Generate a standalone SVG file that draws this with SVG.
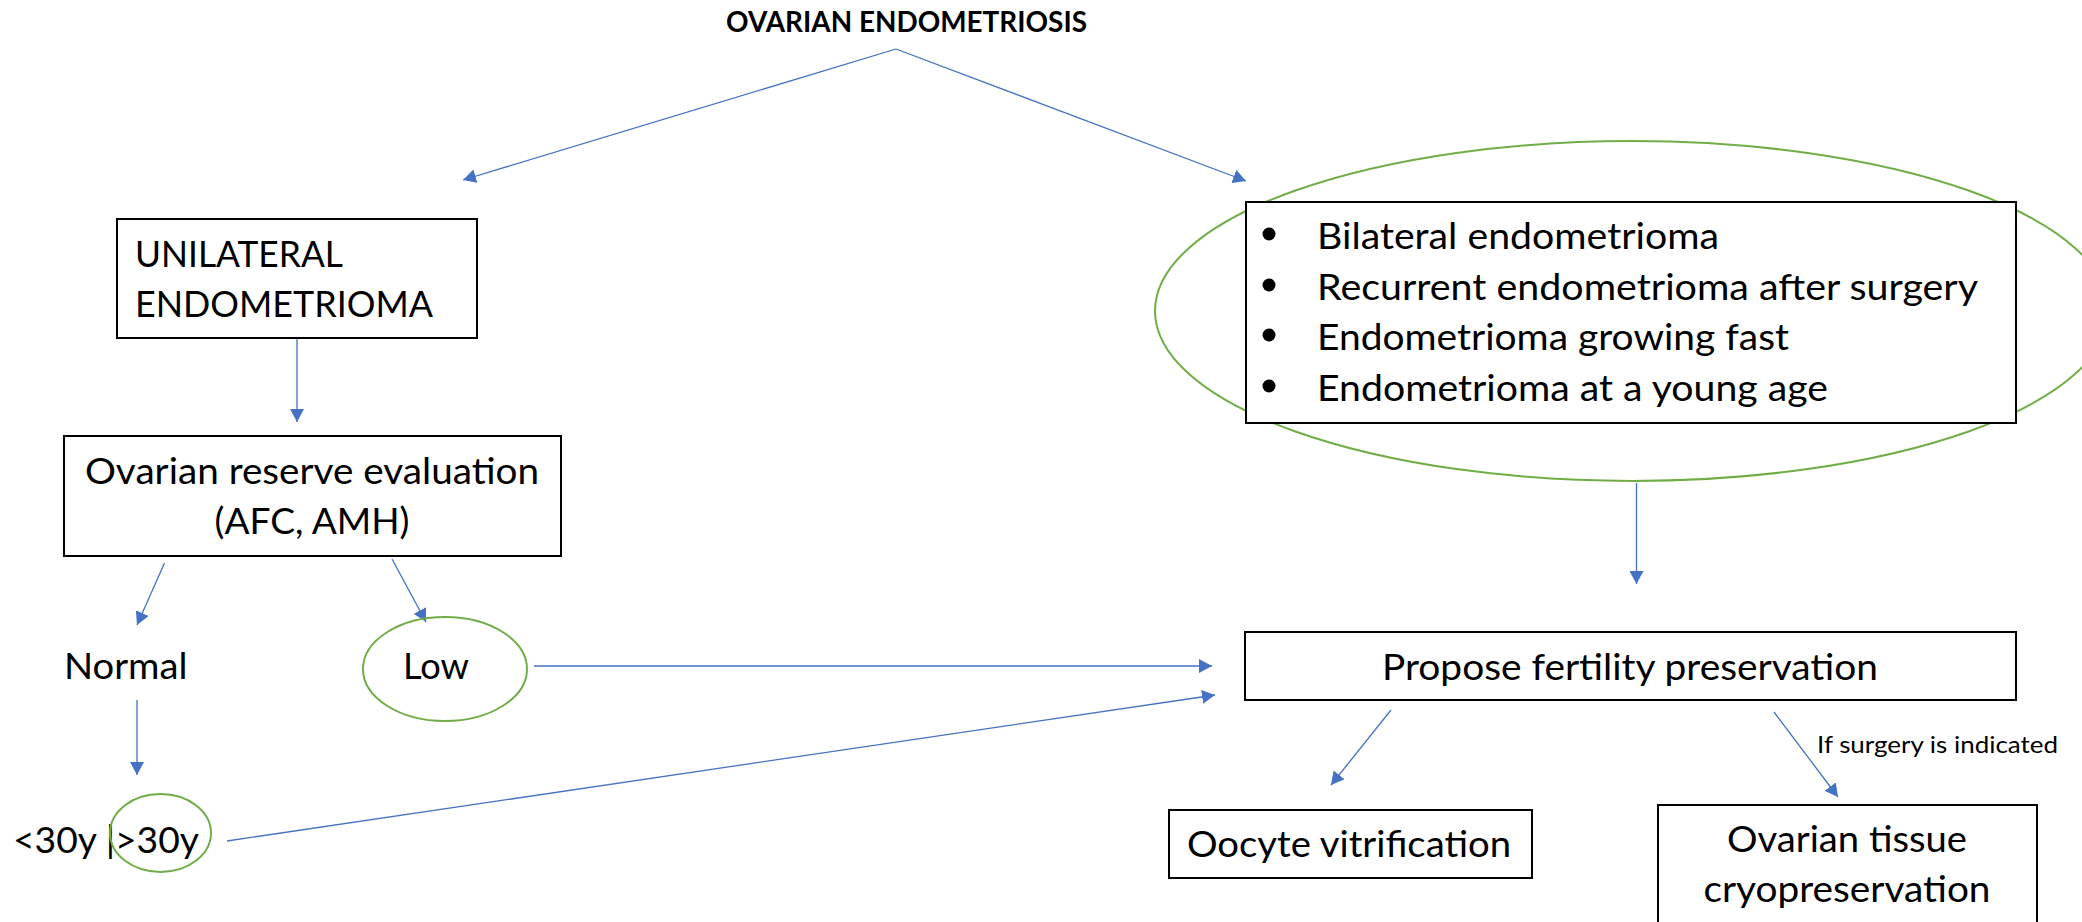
<svg xmlns="http://www.w3.org/2000/svg" width="2082" height="922" viewBox="0 0 2082 922">
  <defs>
    <marker id="arrow" viewBox="0 0 10 10" refX="10" refY="5" markerWidth="13" markerHeight="14" markerUnits="userSpaceOnUse" orient="auto" preserveAspectRatio="none">
      <path d="M0,0 L10,5 L0,10 z" fill="#4472C4"/>
    </marker>
  </defs>
  <style>
    .box { fill: #ffffff; stroke: #000000; stroke-width: 2; }
    .ring { fill: none; stroke: #70AD47; stroke-width: 2; }
    .t { font-family: Lato, "Liberation Sans", sans-serif; font-size: 37px; fill: #000000; }
    .title { font-family: Lato, "Liberation Sans", sans-serif; font-size: 28px; font-weight: bold; fill: #000000; }
    .small { font-family: Lato, "Liberation Sans", sans-serif; font-size: 24px; fill: #000000; }
    .conn line { stroke: #4472C4; stroke-width: 1.3; fill: none; marker-end: url(#arrow); }
    .bullet { fill: #000000; }
  </style>
  <rect width="2082" height="922" fill="#ffffff"/>

  <g id="connectors" class="conn">
    <line x1="896" y1="49" x2="463" y2="180"/>
    <line x1="896" y1="49" x2="1246" y2="181"/>
    <line x1="297" y1="338" x2="297" y2="422"/>
    <line x1="164.5" y1="563" x2="137" y2="625"/>
    <line x1="392" y1="559" x2="426" y2="622"/>
    <line x1="137" y1="700" x2="137" y2="775"/>
    <line x1="534" y1="666" x2="1212" y2="666"/>
    <line x1="227" y1="841" x2="1215" y2="695"/>
    <line x1="1636.5" y1="483" x2="1636.5" y2="584"/>
    <line x1="1391" y1="710" x2="1331" y2="785"/>
    <line x1="1774" y1="712" x2="1838" y2="797"/>
  </g>

  <g id="title">
    <text class="title" x="906.5" y="32" text-anchor="middle" textLength="361" lengthAdjust="spacingAndGlyphs">OVARIAN ENDOMETRIOSIS</text>
  </g>

  <g id="unilateral">
    <rect class="box" x="117" y="219" width="360" height="119"/>
    <text class="t" x="135" y="267" textLength="208" lengthAdjust="spacingAndGlyphs">UNILATERAL</text>
    <text class="t" x="135" y="317" textLength="298" lengthAdjust="spacingAndGlyphs">ENDOMETRIOMA</text>
  </g>

  <g id="ovarian-reserve">
    <rect class="box" x="64" y="436" width="497" height="120"/>
    <text class="t" x="312" y="484" text-anchor="middle" textLength="454" lengthAdjust="spacingAndGlyphs">Ovarian reserve evaluation</text>
    <text class="t" x="312" y="534" text-anchor="middle" textLength="195" lengthAdjust="spacingAndGlyphs">(AFC, AMH)</text>
  </g>

  <g id="normal">
    <text class="t" x="64" y="679" textLength="123.5" lengthAdjust="spacingAndGlyphs">Normal</text>
  </g>

  <g id="low">
    <ellipse class="ring" cx="445" cy="669" rx="82" ry="52"/>
    <text class="t" x="403" y="679" textLength="66" lengthAdjust="spacingAndGlyphs">Low</text>
  </g>

  <g id="age">
    <text class="t" x="13" y="853" textLength="186" lengthAdjust="spacingAndGlyphs">&lt;30y |&gt;30y</text>
    <ellipse class="ring" cx="160.5" cy="833" rx="50.5" ry="39"/>
  </g>

  <g id="criteria">
    <ellipse class="ring" cx="1632" cy="311" rx="477" ry="170"/>
    <rect class="box" x="1246" y="202" width="770" height="221"/>
    <circle class="bullet" cx="1269" cy="234" r="6.5"/>
    <circle class="bullet" cx="1269" cy="285" r="6.5"/>
    <circle class="bullet" cx="1269" cy="335" r="6.5"/>
    <circle class="bullet" cx="1269" cy="386" r="6.5"/>
    <text class="t" x="1317" y="249" textLength="402" lengthAdjust="spacingAndGlyphs">Bilateral endometrioma</text>
    <text class="t" x="1317" y="300" textLength="661" lengthAdjust="spacingAndGlyphs">Recurrent endometrioma after surgery</text>
    <text class="t" x="1317" y="350" textLength="472" lengthAdjust="spacingAndGlyphs">Endometrioma growing fast</text>
    <text class="t" x="1317" y="401" textLength="511" lengthAdjust="spacingAndGlyphs">Endometrioma at a young age</text>
  </g>

  <g id="propose">
    <rect class="box" x="1245" y="632" width="771" height="68"/>
    <text class="t" x="1630" y="680" text-anchor="middle" textLength="496" lengthAdjust="spacingAndGlyphs">Propose fertility preservation</text>
  </g>

  <g id="surgery-label">
    <text class="small" x="1817" y="753" textLength="241" lengthAdjust="spacingAndGlyphs">If surgery is indicated</text>
  </g>

  <g id="oocyte">
    <rect class="box" x="1169" y="810" width="363" height="68"/>
    <text class="t" x="1349" y="857" text-anchor="middle" textLength="324" lengthAdjust="spacingAndGlyphs">Oocyte vitrification</text>
  </g>

  <g id="tissue">
    <rect class="box" x="1658" y="805" width="379" height="130"/>
    <text class="t" x="1847" y="852" text-anchor="middle" textLength="240" lengthAdjust="spacingAndGlyphs">Ovarian tissue</text>
    <text class="t" x="1847" y="902" text-anchor="middle" textLength="287" lengthAdjust="spacingAndGlyphs">cryopreservation</text>
  </g>
</svg>
